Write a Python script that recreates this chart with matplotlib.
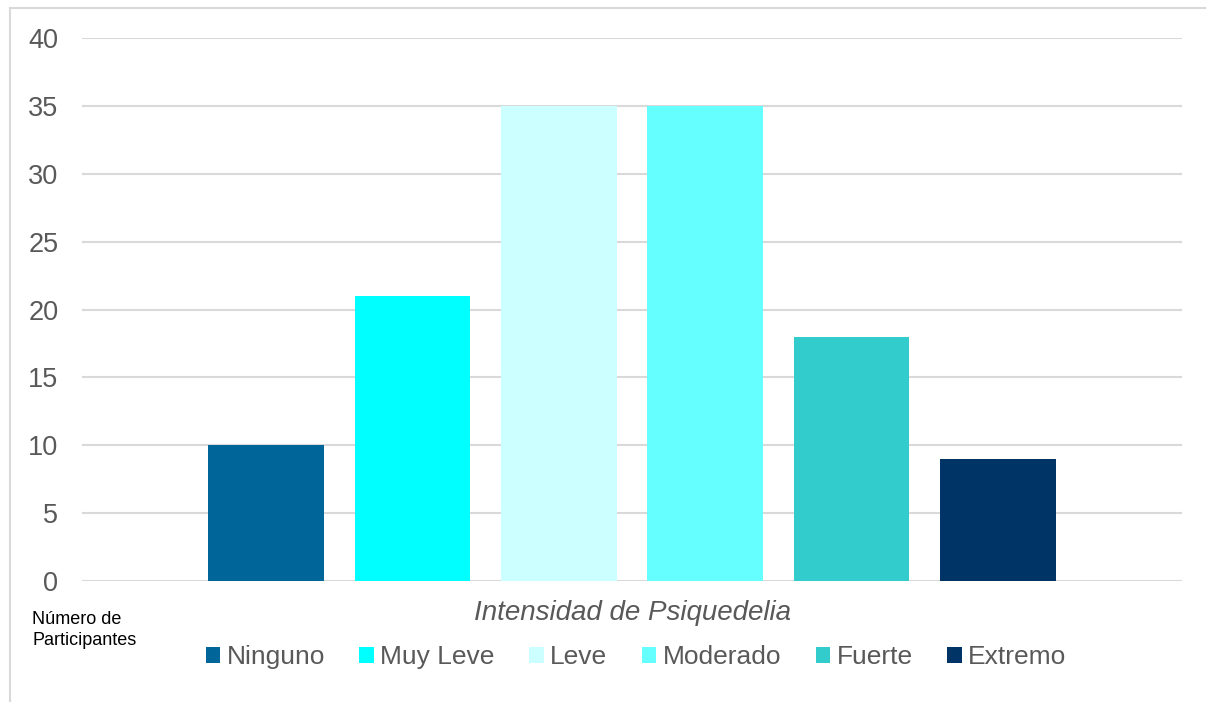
import matplotlib.pyplot as plt
from matplotlib.patches import Patch
from matplotlib.lines import Line2D

plt.rcParams['font.family'] = ['Liberation Sans', 'DejaVu Sans']

# Participantes por intensidad de la experiencia
categorias = ['Ninguno', 'Muy Leve', 'Leve', 'Moderado', 'Fuerte', 'Extremo']
participantes = [10, 21, 35, 35, 18, 9]
colores = ['#006699', '#00FFFF', '#CCFFFF', '#66FFFF', '#33CCCC', '#003366']
yticks = [0, 5, 10, 15, 20, 25, 30, 35, 40]

GRIS = '#595959'
GRID = '#D9D9D9'

fig = plt.figure(figsize=(12.06, 7.02), dpi=100)
ax = fig.add_axes([82 / 1206, 1 - 581 / 702, 1100 / 1206, (581 - 38) / 702])

pos = list(range(len(categorias)))
ax.bar(pos, participantes, width=0.79, color=colores, zorder=3)

half = 1100 / 2 / 146.4
ax.set_xlim(2.5 - half, 2.5 + half)
ax.set_ylim(0, 40)
ax.set_yticks(yticks)
ax.set_xticks([])
ax.tick_params(axis='y', length=0, pad=17, labelsize=19.5, labelcolor=GRIS)
ax.grid(axis='y', color=GRID, linewidth=1.5, zorder=0)
for s in ax.spines.values():
    s.set_visible(False)

ax.set_xlabel('Intensidad de Psiquedelia', fontsize=20, style='italic', color=GRIS, labelpad=14)

fig.text(32 / 1206, 1 - 611 / 702, 'Número de\nParticipantes', fontsize=13,
         color='black', ha='left', va='top', linespacing=1.3)

handles = [Patch(facecolor=c, edgecolor='none') for c in colores]
fig.legend(handles, categorias, loc='center', bbox_to_anchor=(636 / 1206, 1 - 657 / 702),
           ncol=6, frameon=False, fontsize=19, labelcolor=GRIS,
           handlelength=0.55, handleheight=0.55, handletextpad=0.25, columnspacing=1.3)

# marco parcial del area del grafico
fig.add_artist(Line2D([10 / 1206, 10 / 1206], [0, 1 - 8 / 702], color=GRID, linewidth=1.5))
fig.add_artist(Line2D([10 / 1206, 1], [1 - 8 / 702, 1 - 8 / 702], color=GRID, linewidth=1.5))

fig.savefig('out.png', dpi=100)
